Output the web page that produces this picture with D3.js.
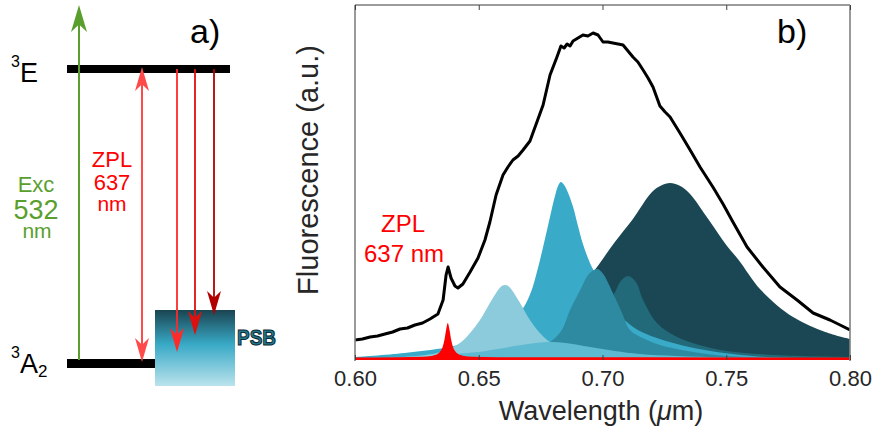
<!DOCTYPE html>
<html>
<head>
<meta charset="utf-8">
<script src="https://cdn.jsdelivr.net/npm/d3@7"></script>
<style>
  html, body { margin: 0; padding: 0; background: #fff; }
  svg { display: block; font-family: "Liberation Sans", Arial, Helvetica, sans-serif; }
</style>
</head>
<body>
<svg id="fig" width="872" height="430"></svg>
<script>
// ---------------- data ----------------
// wavelength axis (µm)
const xTicks = [0.60, 0.65, 0.70, 0.75, 0.80];
const xTickLabels = ["0.60", "0.65", "0.70", "0.75", "0.80"];

// measured NV fluorescence spectrum (wavelength µm, counts a.u.)
const specWl = [0.6000, 0.6030, 0.6061, 0.6091, 0.6121, 0.6152, 0.6182, 0.6212, 0.6242, 0.6273,
  0.6303, 0.6335, 0.6356, 0.6368, 0.6376, 0.6388, 0.6404, 0.6416, 0.6436, 0.6465,
  0.6497, 0.6525, 0.6545, 0.6570, 0.6598, 0.6618, 0.6638, 0.6659, 0.6679, 0.6707,
  0.6735, 0.6760, 0.6788, 0.6816, 0.6832, 0.6845, 0.6857, 0.6869, 0.6881, 0.6901,
  0.6921, 0.6941, 0.6962, 0.6982, 0.7002, 0.7022, 0.7042, 0.7063, 0.7083, 0.7103,
  0.7123, 0.7143, 0.7164, 0.7184, 0.7204, 0.7232, 0.7253, 0.7273, 0.7313, 0.7354,
  0.7394, 0.7446, 0.7487, 0.7527, 0.7584, 0.7648, 0.7717, 0.7786, 0.7851, 0.7919,
  0.7960, 0.8000];
const specI = [200, 210, 230, 240, 260, 280, 310, 320, 350, 370,
  410, 460, 600, 850, 930, 820, 740, 720, 760, 880,
  1020, 1200, 1380, 1650, 1850, 1930, 2000, 2040, 2100, 2190,
  2380, 2550, 2850, 3030, 3140, 3120, 3160, 3140, 3190, 3220,
  3250, 3240, 3270, 3250, 3180, 3180, 3170, 3160, 3150, 3090,
  3030, 2980, 2900, 2820, 2730, 2540, 2480, 2430, 2270, 2100,
  1930, 1730, 1560, 1380, 1130, 930, 730, 600, 470, 400,
  350, 300];

// zero-phonon line (637 nm)
const zplWl = [0.6000, 0.6175, 0.6275, 0.6315, 0.6333, 0.6347, 0.6354, 0.6361, 0.6368, 0.6375,
  0.6382, 0.6389, 0.6396, 0.6403, 0.6417, 0.6435, 0.6475, 0.6575, 0.8000];
const zplI = [25, 27, 32, 43, 59, 94, 131, 198, 301, 370,
  301, 198, 131, 94, 59, 43, 32, 27, 25];

// phonon sideband components
const psb1Wl = [0.6000, 0.6200, 0.6400, 0.6500, 0.6600, 0.6700, 0.6780, 0.6850, 0.6950, 0.7050,
  0.7150, 0.7300, 0.7500, 0.7800, 0.8000];
const psb1I = [10, 20, 60, 80, 120, 160, 180, 170, 130, 90, 60, 40, 25, 15, 10];

const psb2Wl = [0.6000, 0.6198, 0.6347, 0.6424, 0.6465, 0.6505, 0.6545, 0.6578, 0.6593, 0.6606,
  0.6619, 0.6634, 0.6667, 0.6707, 0.6747, 0.6788, 0.6865, 0.7010, 0.7400, 0.8000];
const psb2I = [15, 30, 80, 170, 270, 400, 570, 700, 740, 750,
  740, 700, 570, 400, 270, 180, 90, 40, 20, 10];

const psb3Wl = [0.6000, 0.6200, 0.6400, 0.6500, 0.6600, 0.6674, 0.6711, 0.6735, 0.6760, 0.6785,
  0.6808, 0.6822, 0.6832, 0.6842, 0.6856, 0.6880, 0.6901, 0.6921, 0.6953, 0.6977,
  0.7002, 0.7034, 0.7078, 0.7143, 0.7220, 0.7350, 0.7490, 0.7630, 0.7800, 0.8000];
const psb3I = [30, 70, 140, 220, 330, 500, 680, 880, 1130, 1400,
  1640, 1750, 1780, 1760, 1700, 1540, 1340, 1160, 950, 840,
  740, 600, 430, 300, 220, 130, 70, 35, 20, 15];

const psb4Wl = [0.6400, 0.6600, 0.6750, 0.6830, 0.6869, 0.6910, 0.6945, 0.6978, 0.7000, 0.7042,
  0.7079, 0.7111, 0.7180, 0.7232, 0.7366, 0.7500, 0.7700, 0.8000];
const psb4I = [20, 50, 120, 280, 500, 700, 860, 910, 870, 670,
  470, 300, 200, 150, 80, 40, 20, 10];

const psb5Wl = [0.6600, 0.6800, 0.6950, 0.7022, 0.7055, 0.7071, 0.7103, 0.7135, 0.7164, 0.7220,
  0.7301, 0.7406, 0.7503, 0.7700, 0.8000];
const psb5I = [40, 100, 280, 550, 700, 780, 840, 780, 600, 370,
  230, 140, 90, 50, 30];

const psb6Wl = [0.6000, 0.6200, 0.6400, 0.6600, 0.6800, 0.6950, 0.7050, 0.7120, 0.7200, 0.7237,
  0.7273, 0.7310, 0.7350, 0.7430, 0.7500, 0.7550, 0.7640, 0.7770, 0.7900, 0.8000];
const psb6I = [0, 5, 40, 130, 420, 840, 1180, 1400, 1680, 1745,
  1770, 1745, 1670, 1400, 1150, 1000, 700, 430, 280, 210];

// ---------------- layout ----------------
const svg = d3.select("#fig");
const defs = svg.append("defs");
const plot = { left: 355, right: 850, top: 5, bottom: 360 };

const x = d3.scaleLinear().domain([0.60, 0.80]).range([plot.left, plot.right]);
const y = d3.scaleLinear().domain([0, 3550]).range([plot.bottom, plot.top]);

defs.append("clipPath").attr("id", "plotClip")
  .append("rect")
  .attr("x", plot.left).attr("y", plot.top)
  .attr("width", plot.right - plot.left).attr("height", plot.bottom - plot.top);

// fitted components, back to front
const components = [
  { wl: psb6Wl, I: psb6I, fill: "#1a4753" },
  { wl: psb5Wl, I: psb5I, fill: "#22697a" },
  { wl: psb3Wl, I: psb3I, fill: "#39aac8" },
  { wl: psb4Wl, I: psb4I, fill: "#2e8aa0" },
  { wl: psb2Wl, I: psb2I, fill: "#8bcbdb" },
  { wl: psb1Wl, I: psb1I, fill: "#5ebad1" },
  { wl: zplWl,  I: zplI,  fill: "#ff0000", sharp: true }
];

const smoothArea = d3.area()
  .x(d => x(d[0])).y0(y(0)).y1(d => y(Math.max(0, d[1])))
  .curve(d3.curveCatmullRom.alpha(0.5));
const sharpArea = d3.area()
  .x(d => x(d[0])).y0(y(0)).y1(d => y(d[1]))
  .curve(d3.curveMonotoneX);

const gPlot = svg.append("g").attr("clip-path", "url(#plotClip)");

components.forEach(c => {
  gPlot.append("path")
    .datum(c.wl.map((w, i) => [w, c.I[i]]))
    .attr("d", c.sharp ? sharpArea : smoothArea)
    .attr("fill", c.fill);
});

// measured spectrum
const line = d3.line().x(d => x(d[0])).y(d => y(d[1]));
gPlot.append("path")
  .datum(specWl.map((w, i) => [w, specI[i]]))
  .attr("d", line)
  .attr("fill", "none")
  .attr("stroke", "#000")
  .attr("stroke-width", 3)
  .attr("stroke-linejoin", "round");

// axis box
const box = svg.append("g");
box.append("line").attr("x1", plot.left).attr("x2", plot.right)
  .attr("y1", plot.top).attr("y2", plot.top)
  .attr("stroke", "#3a3a3a").attr("stroke-width", 1.2);
box.append("line").attr("x1", plot.left).attr("x2", plot.left)
  .attr("y1", plot.top).attr("y2", plot.bottom + 1)
  .attr("stroke", "#808080").attr("stroke-width", 1.6);
box.append("line").attr("x1", plot.right).attr("x2", plot.right)
  .attr("y1", plot.top).attr("y2", plot.bottom + 1)
  .attr("stroke", "#808080").attr("stroke-width", 1.6);

// x axis (ticks point inward)
const xAxis = d3.axisBottom(x)
  .tickValues(xTicks)
  .tickFormat((d, i) => xTickLabels[i])
  .tickSizeInner(-5).tickSizeOuter(0).tickPadding(10);
const gx = svg.append("g").attr("transform", `translate(0,${plot.bottom})`).call(xAxis);
gx.select(".domain").remove();
gx.selectAll(".tick line").attr("stroke", "#404040");
gx.selectAll(".tick text")
  .attr("font-size", 22).attr("fill", "#262626")
  .attr("font-family", '"Liberation Sans", Arial, sans-serif');

const xAxisTop = d3.axisTop(x).tickValues(xTicks).tickFormat("")
  .tickSizeInner(-5).tickSizeOuter(0);
const gxt = svg.append("g").attr("transform", `translate(0,${plot.top})`).call(xAxisTop);
gxt.select(".domain").remove();
gxt.selectAll(".tick line").attr("stroke", "#404040");

// axis titles
const xt = svg.append("text")
  .attr("x", 601).attr("y", 420)
  .attr("text-anchor", "middle").attr("font-size", 27).attr("fill", "#262626");
xt.append("tspan").text("Wavelength (");
xt.append("tspan").attr("font-style", "italic").text("μ");
xt.append("tspan").text("m)");

svg.append("text")
  .attr("transform", "translate(318,170) rotate(-90)")
  .attr("text-anchor", "middle").attr("font-size", 29).attr("fill", "#262626")
  .text("Fluorescence (a.u.)");

// ZPL annotation
svg.append("text").attr("x", 403).attr("y", 232).attr("text-anchor", "middle")
  .attr("font-size", 24).attr("fill", "#ff0000").text("ZPL");
svg.append("text").attr("x", 404).attr("y", 262).attr("text-anchor", "middle")
  .attr("font-size", 24).attr("fill", "#ff0000").text("637 nm");

svg.append("text").attr("x", 777).attr("y", 43)
  .attr("font-size", 34).attr("fill", "#000").text("b)");

// ---------------- panel a: level diagram ----------------
const ga = svg.append("g");

ga.append("text").attr("x", 190).attr("y", 43)
  .attr("font-size", 34).attr("fill", "#000").text("a)");

// level labels
const lvE = ga.append("text").attr("x", 11).attr("y", 82).attr("fill", "#000");
lvE.append("tspan").attr("font-size", 16).attr("dy", -15).text("3");
lvE.append("tspan").attr("font-size", 27).attr("dy", 15).text("E");

const lvA = ga.append("text").attr("x", 11).attr("y", 373).attr("fill", "#000");
lvA.append("tspan").attr("font-size", 16).attr("dy", -15).text("3");
lvA.append("tspan").attr("font-size", 27).attr("dy", 15).text("A");
lvA.append("tspan").attr("font-size", 17).attr("dy", 4).text("2");

// phonon sideband box
const grad = defs.append("linearGradient")
  .attr("id", "psbGrad").attr("x1", 0).attr("x2", 0).attr("y1", 0).attr("y2", 1);
grad.append("stop").attr("offset", "0%").attr("stop-color", "#1a4451");
grad.append("stop").attr("offset", "45%").attr("stop-color", "#38a9c6");
grad.append("stop").attr("offset", "100%").attr("stop-color", "#bbe3ed");

ga.append("rect").attr("x", 155).attr("y", 310).attr("width", 80).attr("height", 76)
  .attr("fill", "url(#psbGrad)");

ga.append("text").attr("x", 237).attr("y", 345)
  .attr("font-size", 22).attr("font-weight", "bold")
  .attr("textLength", 39).attr("lengthAdjust", "spacingAndGlyphs")
  .attr("fill", "#23798f").attr("stroke", "#0e2b33").attr("stroke-width", 1.1)
  .text("PSB");

// energy levels
ga.append("line").attr("x1", 67).attr("x2", 230).attr("y1", 69).attr("y2", 69)
  .attr("stroke", "#000").attr("stroke-width", 8);
ga.append("line").attr("x1", 67).attr("x2", 155).attr("y1", 363.5).attr("y2", 363.5)
  .attr("stroke", "#000").attr("stroke-width", 9);

// arrow helper: notched head, dir = 1 points down, -1 points up
function arrowHead(xc, yTip, dir, w, L, color) {
  const yb = yTip - dir * L, yn = yTip - dir * 0.72 * L;
  ga.append("path")
    .attr("d", `M${xc},${yTip}L${xc - w / 2},${yb}L${xc},${yn}L${xc + w / 2},${yb}Z`)
    .attr("fill", color);
}
function vline(xc, y1, y2, color, w) {
  ga.append("line").attr("x1", xc).attr("x2", xc).attr("y1", y1).attr("y2", y2)
    .attr("stroke", color).attr("stroke-width", w);
}

// excitation 532 nm
const green = "#5a9f2e";
vline(79, 360, 22, green, 2);
arrowHead(79, 5, -1, 16, 27, green);

// zero-phonon line (double headed)
const zplRed = "#ff4a4a";
vline(142, 84, 346, zplRed, 2);
arrowHead(142, 67, -1, 14, 24, zplRed);
arrowHead(142, 362, 1, 14, 24, zplRed);

// sideband emission
[[177, 352, "#ff2a2a"], [195, 335, "#dd1010"], [214, 315, "#b20000"]].forEach(a => {
  vline(a[0], 69, a[1] - 12, a[2], 1.8);
  arrowHead(a[0], a[1], 1, 14, 24, a[2]);
});

// labels
const exc = ga.append("g").attr("fill", green).attr("text-anchor", "middle");
exc.append("text").attr("x", 36).attr("y", 192).attr("font-size", 22).text("Exc");
exc.append("text").attr("x", 36).attr("y", 219).attr("font-size", 27).text("532");
exc.append("text").attr("x", 37).attr("y", 238).attr("font-size", 21).text("nm");

const zl = ga.append("g").attr("fill", "#ff0000").attr("text-anchor", "middle");
zl.append("text").attr("x", 112).attr("y", 167).attr("font-size", 22).text("ZPL");
zl.append("text").attr("x", 112).attr("y", 190).attr("font-size", 22).text("637");
zl.append("text").attr("x", 112).attr("y", 211).attr("font-size", 21).text("nm");
</script>
</body>
</html>
